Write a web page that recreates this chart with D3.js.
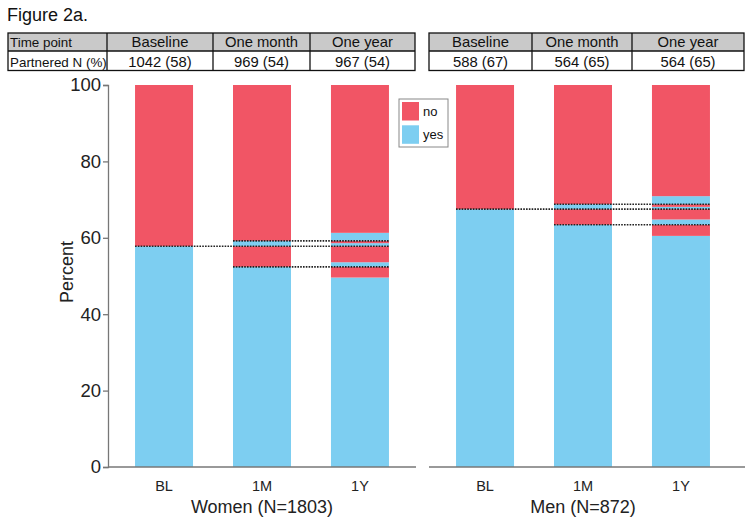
<!DOCTYPE html>
<html><head><meta charset="utf-8">
<script src="https://cdn.jsdelivr.net/npm/d3@7"></script>
<style>
body{margin:0;background:#fff;}
svg{display:block;font-family:"Liberation Sans",Arial,sans-serif;}
</style></head>
<body><svg id="c" width="754" height="523"></svg>
<script>
// ---------- data ----------
const categories = ["BL", "1M", "1Y"];
const statuses = ["yes", "no"]; // segments alternate yes / no from bottom
// stacked segment values (percent), bottom to top, alternating yes/no
const womenBL = [57.8, 42.2];
const women1M = [52.4, 5.4, 1.4, 40.8];
const women1Y = [49.6, 2.8, 1.2, 4.2, 0.8, 0.6, 2.1, 38.7];
const menBL = [67.5, 32.5];
const men1M = [63.4, 4.1, 1.3, 31.2];
const men1Y = [60.5, 2.9, 1.4, 2.7, 0.6, 0.7, 2.1, 29.1];
const yTicks = [0, 20, 40, 60, 80, 100];
const tableHeader = ["Time point", "Baseline", "One month", "One year"];
const womenRow = ["Partnered N (%)", "1042 (58)", "969 (54)", "967 (54)"];
const menRow = ["588 (67)", "564 (65)", "564 (65)"];
const panelTitles = ["Women (N=1803)", "Men (N=872)"];
const legendItems = ["no", "yes"];

const colors = {yes: "#7dcef1", no: "#f15565"};
const svg = d3.select("#c");

svg.append("text").attr("x", 7).attr("y", 21).attr("font-size", 18).attr("fill", "#111").text("Figure 2a.");

// ---------- tables ----------
function table(xs, rows) {
  const ys = [33, 51, 70.5];
  const g = svg.append("g");
  g.append("rect").attr("x", xs[0]).attr("y", ys[0]).attr("width", xs[xs.length-1]-xs[0]).attr("height", ys[1]-ys[0]).attr("fill", "#c9c9c9");
  g.append("rect").attr("x", xs[0]).attr("y", ys[0]).attr("width", xs[xs.length-1]-xs[0]).attr("height", ys[2]-ys[0])
    .attr("fill", "none").attr("stroke", "#111").attr("stroke-width", 1.3);
  g.append("line").attr("x1", xs[0]).attr("x2", xs[xs.length-1]).attr("y1", ys[1]).attr("y2", ys[1]).attr("stroke", "#111").attr("stroke-width", 1.3);
  xs.slice(1, -1).forEach(x => g.append("line").attr("x1", x).attr("x2", x).attr("y1", ys[0]).attr("y2", ys[2]).attr("stroke", "#111").attr("stroke-width", 1.3));
  rows.forEach((row, r) => {
    row.forEach((t, i) => {
      const left = i === 0 && xs.length === 5;
      g.append("text")
        .attr("x", left ? xs[0] + 2 : (xs[i] + xs[i+1]) / 2)
        .attr("y", r === 0 ? 47 : 66.5)
        .attr("text-anchor", left ? "start" : "middle")
        .attr("font-size", left ? 13.4 : 14.8).attr("fill", "#111").text(t);
    });
  });
}
table([8, 107, 213, 310, 415], [tableHeader, womenRow]);
table([429, 532, 632, 744], [tableHeader.slice(1), menRow]);

// ---------- scales ----------
const y = d3.scaleLinear().domain([0, 100]).range([467, 85]);
const xW = d3.scaleBand().domain(categories).range([108, 416]).paddingInner(0.408).paddingOuter(0.276);
const xM = d3.scaleBand().domain(categories).range([429, 737]).paddingInner(0.408).paddingOuter(0.276);

// y axis
const ya = svg.append("g").attr("transform", "translate(108,0)")
  .call(d3.axisLeft(y).tickValues(yTicks).tickSize(5).tickPadding(2).tickFormat(d3.format("d")));
ya.select(".domain").attr("stroke", "#777").attr("stroke-width", 1.3);
ya.selectAll(".tick line").attr("stroke", "#777").attr("stroke-width", 1.3);
ya.selectAll(".tick text").attr("font-size", 18.5).attr("fill", "#222").attr("font-family", "Liberation Sans, Arial, sans-serif");
svg.append("text").attr("transform", "translate(73,272) rotate(-90)").attr("text-anchor", "middle")
  .attr("font-size", 18).attr("fill", "#222").text("Percent");

function panel(x, bars, axisRange, title) {
  const g = svg.append("g");
  const lines = [];
  const lastRight = x(categories[categories.length - 1]) + x.bandwidth();
  bars.forEach((vals, bi) => {
    const cat = categories[bi];
    let cum = 0;
    vals.forEach((v, si) => {
      g.append("rect").attr("x", x(cat)).attr("width", x.bandwidth())
        .attr("y", y(cum + v)).attr("height", y(cum) - y(cum + v))
        .attr("fill", colors[statuses[si % 2]]);
      cum += v;
      if (bi < bars.length - 1 && si < vals.length - 1) {
        const key = cum.toFixed(1);
        if (!lines.some(l => l.key === key)) lines.push({key, v: cum, x1: x(cat), x2: lastRight});
      }
    });
  });
  lines.forEach(l => g.append("line").attr("x1", l.x1).attr("x2", l.x2).attr("y1", y(l.v)).attr("y2", y(l.v))
    .attr("stroke", "#222").attr("stroke-width", 1.6).attr("stroke-dasharray", "1.6,1.2"));
  // x axis
  svg.append("line").attr("x1", axisRange[0]).attr("x2", axisRange[1]).attr("y1", y(0)).attr("y2", y(0))
    .attr("stroke", "#777").attr("stroke-width", 1.3);
  const xa = svg.append("g").attr("transform", `translate(0,${y(0)})`)
    .call(d3.axisBottom(x).tickSize(0).tickPadding(14));
  xa.select(".domain").remove();
  xa.selectAll(".tick text").attr("font-size", 14.5).attr("fill", "#222").attr("font-family", "Liberation Sans, Arial, sans-serif");
  svg.append("text").attr("x", x(categories[1]) + x.bandwidth() / 2).attr("y", 513)
    .attr("text-anchor", "middle").attr("font-size", 18).attr("fill", "#222").text(title);
}
panel(xW, [womenBL, women1M, women1Y], [108, 416], panelTitles[0]);
panel(xM, [menBL, men1M, men1Y], [429, 745], panelTitles[1]);

// legend
const lg = svg.append("g");
lg.append("rect").attr("x", 399).attr("y", 99).attr("width", 49).attr("height", 48)
  .attr("fill", "#fff").attr("stroke", "#888").attr("stroke-width", 1);
legendItems.forEach((k, i) => {
  lg.append("rect").attr("x", 402).attr("y", 102 + i * 23.3).attr("width", 17).attr("height", 18.5).attr("fill", colors[k]);
  lg.append("text").attr("x", 423).attr("y", 116 + i * 23.3).attr("font-size", 13).attr("fill", "#111").text(k);
});
</script></body></html>
